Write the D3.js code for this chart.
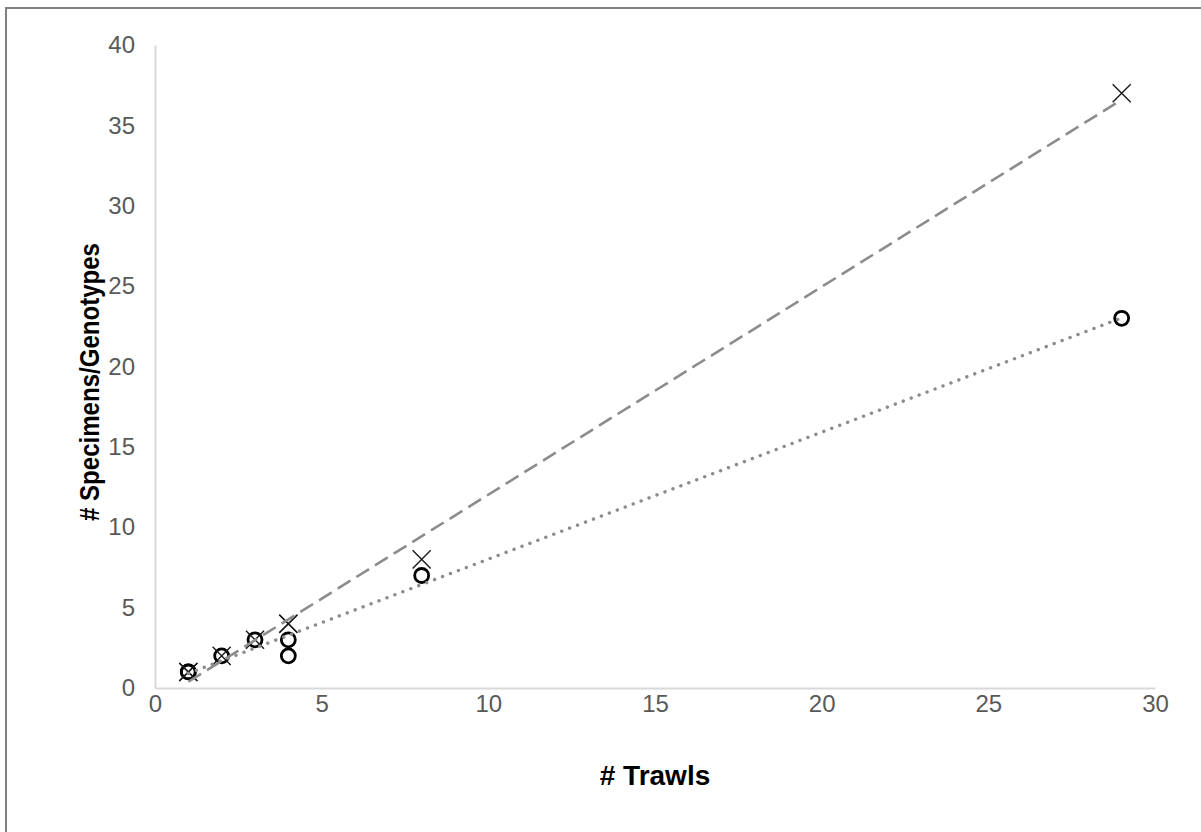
<!DOCTYPE html>
<html>
<head>
<meta charset="utf-8">
<script src="https://cdn.jsdelivr.net/npm/d3@7"></script>
<style>
	body { margin: 0; background: #fff; }
	svg { display: block; }
</style>
</head>
<body>
<div id="container"></div>
<script>
	var WIDTH = 1201;
	var HEIGHT = 832;

	// one row per sampling site
	var trawls    = [1, 1, 2, 3, 4, 4, 8, 29];
	var specimens = [1, 1, 2, 3, 4, 4, 8, 37];
	var genotypes = [1, 1, 2, 3, 3, 2, 7, 23];

	var xTicks = [0, 5, 10, 15, 20, 25, 30];
	var yTicks = [0, 5, 10, 15, 20, 25, 30, 35, 40];

	var xTitle = "# Trawls";
	var yTitle = "# Specimens/Genotypes";

	// least squares fit, like the excel linear trendline
	var fit = function(xs, ys){
		var n = xs.length, sx = 0, sy = 0, sxy = 0, sxx = 0;
		for(var i=0; i<n; i++){
			sx += xs[i]; sy += ys[i];
			sxy += xs[i]*ys[i]; sxx += xs[i]*xs[i];
		}
		var slope = (n*sxy - sx*sy) / (n*sxx - sx*sx);
		var icpt = (sy - slope*sx) / n;
		return function(v){ return icpt + slope*v; };
	};

	var svg = d3.select('#container')
		.append('svg')
		.attr('width', WIDTH)
		.attr('height', HEIGHT);

	// chart area border (continues off the right and bottom edges)
	svg.append('rect')
		.attr('x', 6).attr('y', 8)
		.attr('width', WIDTH + 20).attr('height', HEIGHT + 20)
		.style('fill', 'none')
		.style('stroke', '#808080')
		.style('stroke-width', 2);

	var x = d3.scaleLinear().domain([0, 30]).range([155, 1155]);
	var y = d3.scaleLinear().domain([0, 40]).range([688, 45]);

	var xAxis = svg.append('g')
		.attr('transform', 'translate(0,' + y(0) + ')')
		.call(d3.axisBottom(x).tickValues(xTicks).tickSize(0).tickPadding(7));
	var yAxis = svg.append('g')
		.attr('transform', 'translate(' + x(0) + ',0)')
		.call(d3.axisLeft(y).tickValues(yTicks).tickSize(0).tickPadding(20));

	[xAxis, yAxis].forEach(function(a){
		a.select('.domain')
			.style('stroke', '#d9d9d9')
			.style('stroke-width', 2);
		a.selectAll('text')
			.style('font-family', 'Liberation Sans, Arial, sans-serif')
			.style('font-size', '24px')
			.style('fill', '#595959');
	});

	svg.append('text')
		.text(xTitle)
		.attr('x', x(15)).attr('y', 785)
		.attr('text-anchor', 'middle')
		.style('font-family', 'Liberation Sans, Arial, sans-serif')
		.style('font-weight', 'bold')
		.style('font-size', '28px')
		.style('fill', '#000');

	svg.append('text')
		.text(yTitle)
		.attr('transform', 'translate(99,382) rotate(-90)')
		.attr('text-anchor', 'middle')
		.attr('textLength', 278)
		.attr('lengthAdjust', 'spacingAndGlyphs')
		.style('font-family', 'Liberation Sans, Arial, sans-serif')
		.style('font-weight', 'bold')
		.style('font-size', '27px')
		.style('fill', '#000');

	var pts = trawls.map(function(t, i){
		return {t: t, s: specimens[i], g: genotypes[i]};
	});

	// genotypes: open circles
	svg.selectAll('circle.geno')
		.data(pts)
		.enter().append('circle')
		.attr('class', 'geno')
		.attr('cx', function(d){ return x(d.t); })
		.attr('cy', function(d){ return y(d.g); })
		.attr('r', 7)
		.style('fill', 'none')
		.style('stroke', '#000')
		.style('stroke-width', 2.8);

	// specimens: x markers
	var cross = d3.symbol().type(d3.symbolX).size(215);
	svg.selectAll('path.spec')
		.data(pts)
		.enter().append('path')
		.attr('class', 'spec')
		.attr('d', cross)
		.attr('transform', function(d){ return 'translate(' + x(d.t) + ',' + y(d.s) + ')'; })
		.style('fill', 'none')
		.style('stroke', '#1a1a1a')
		.style('stroke-width', 1.4);

	var xmin = d3.min(trawls), xmax = d3.max(trawls);
	var lines = [
		{f: fit(trawls, specimens), dash: '15,7', cap: 'butt', w: 2.6},
		{f: fit(trawls, genotypes), dash: '0.1,8.4', cap: 'round', w: 3.4}
	];
	svg.selectAll('line.trend')
		.data(lines)
		.enter().append('line')
		.attr('class', 'trend')
		.attr('x1', x(xmin)).attr('y1', function(d){ return y(d.f(xmin)); })
		.attr('x2', x(xmax)).attr('y2', function(d){ return y(d.f(xmax)); })
		.style('stroke', '#8c8c8c')
		.style('stroke-width', function(d){ return d.w; })
		.style('stroke-dasharray', function(d){ return d.dash; })
		.style('stroke-linecap', function(d){ return d.cap; });
</script>
</body>
</html>
